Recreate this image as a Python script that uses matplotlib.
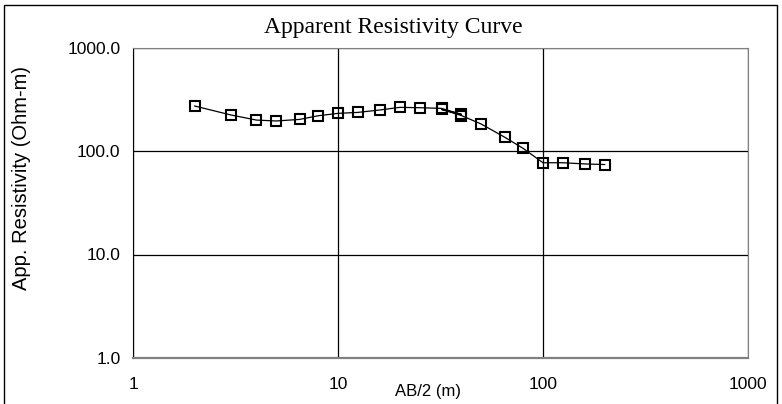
import matplotlib
matplotlib.use("Agg")
import matplotlib.pyplot as plt
from matplotlib.patches import Rectangle
from matplotlib.ticker import FixedLocator, NullLocator

ab2 = [2, 3, 4, 5, 6.5, 8, 10, 12.5, 16, 20, 25, 32, 40, 32, 40, 50, 65, 80, 100, 125, 160, 200]
rho = [272, 223, 199, 195, 202, 219, 231, 236, 249, 264, 262, 258, 226, 252, 220, 182, 136, 106, 77, 77, 75, 74]

xticks = [1, 10, 100, 1000]
xtick_labels = ["1", "10", "100", "1000"]
yticks = [1, 10, 100, 1000]
ytick_labels = ["1.0", "10.0", "100.0", "1000.0"]

SANS = ["Liberation Sans", "DejaVu Sans"]

fig = plt.figure(figsize=(7.82, 4.04), dpi=100)
fig.patches.append(Rectangle((4/782, -0.05), 773/782, (404-5)/404 + 0.05, transform=fig.transFigure,
                             fill=False, edgecolor="black", linewidth=1.0))
ax = fig.add_axes([133/782, (404-358)/404, (748-133)/782, (358-47.5)/404])
ax.set_xscale("log")
ax.set_yscale("log")
ax.set_xlim(1, 1000)
ax.set_ylim(1, 1000)
ax.plot(ab2, rho, color="black", linewidth=0.9, marker="s", markersize=7,
        markerfacecolor="none", markeredgecolor="black", markeredgewidth=1.5)
ax.xaxis.set_major_locator(FixedLocator(xticks))
ax.yaxis.set_major_locator(FixedLocator(yticks))
ax.xaxis.set_minor_locator(NullLocator())
ax.yaxis.set_minor_locator(NullLocator())
ax.set_xticklabels(xtick_labels, fontfamily=SANS, fontsize=12.5)
ax.set_yticklabels(ytick_labels, fontfamily=SANS, fontsize=12.5)
ax.tick_params(length=0, pad=14, axis="x")
ax.tick_params(length=0, pad=9, axis="y")
ax.grid(True, color="black", linewidth=0.9)
for s in ["top", "right", "bottom"]:
    ax.spines[s].set_color("#808080")
ax.spines["bottom"].set_linewidth(1.6)
ax.spines["left"].set_color("black")
ax.set_xlabel("AB/2 (m)", fontfamily=SANS, fontsize=12)
ax.xaxis.set_label_coords((428-133)/615, -0.085)
ax.set_ylabel("App. Resistivity (Ohm-m)", fontfamily=SANS, fontsize=14.5)
ax.yaxis.set_label_coords(-(133-31)/615, (358-178)/310.5)
fig.text(393/782, (404-28)/404, "Apparent Resistivity Curve", ha="center", va="center",
         fontfamily=["Liberation Serif", "DejaVu Serif"], fontsize=17)
fig.savefig("out.png", dpi=100)
